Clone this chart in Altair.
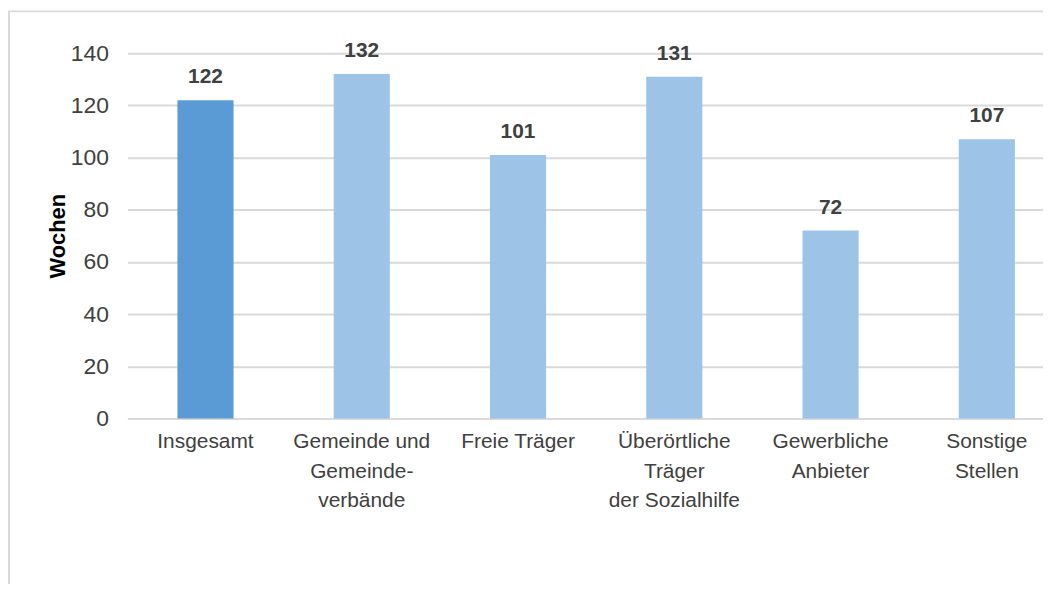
import altair as alt
import pandas as pd

categories = [
    "Insgesamt",
    "Gemeinde und\nGemeinde-\nverbände",
    "Freie Träger",
    "Überörtliche\nTräger\nder Sozialhilfe",
    "Gewerbliche\nAnbieter",
    "Sonstige\nStellen",
]
values = [122, 132, 101, 131, 72, 107]
groups = ["total", "part", "part", "part", "part", "part"]
group_colors = ["#5b9bd5", "#9dc3e6"]

df = pd.DataFrame({"Kategorie": categories, "Wochen": values, "Gruppe": groups})

FONT = "Liberation Sans"

x_enc = alt.X(
    "Kategorie:N",
    sort=categories,
    title=None,
    scale=alt.Scale(range=[0, 942], paddingInner=0.641, paddingOuter=0.32, round=False),
    axis=alt.Axis(
        labelAngle=0,
        labelExpr="split(datum.label, '\\n')",
        labelFont=FONT,
        labelFontSize=21,
        labelColor="#404040",
        labelLineHeight=30,
        labelPadding=12,
        ticks=False,
        domainColor="#d9d9d9",
        domainWidth=2,
        grid=False,
    ),
)

y_enc = alt.Y(
    "Wochen:Q",
    scale=alt.Scale(domain=[0, 140], nice=False),
    axis=alt.Axis(
        values=[0, 20, 40, 60, 80, 100, 120, 140],
        title="Wochen",
        titleFont=FONT,
        titleFontSize=22,
        titleFontWeight="bold",
        titleColor="#000000",
        titleX=-70,
        titleY=183.5,
        titleAngle=270,
        titleAlign="center",
        titleBaseline="middle",
        labelFont=FONT,
        labelFontSize=23,
        labelColor="#404040",
        labelPadding=19,
        ticks=False,
        domain=False,
        grid=True,
        gridColor="#d9d9d9",
        gridWidth=2,
    ),
)

frame = (
    alt.Chart(alt.Data(values=[{"a": 1}]))
    .mark_rect(fillOpacity=0, stroke="#d9d9d9", strokeWidth=2)
    .encode(
        x=alt.value(-119),
        x2=alt.value(960),
        y=alt.value(-42),
        y2=alt.value(560),
    )
)

bars = (
    alt.Chart(df)
    .mark_bar()
    .encode(
        x=x_enc,
        y=y_enc,
        color=alt.Color(
            "Gruppe:N",
            scale=alt.Scale(domain=["total", "part"], range=group_colors),
            legend=None,
        ),
    )
)

labels = (
    alt.Chart(df)
    .mark_text(
        font=FONT,
        fontSize=21,
        fontWeight="bold",
        color="#404040",
        baseline="alphabetic",
        dy=-17,
    )
    .encode(x=alt.X("Kategorie:N", sort=categories), y="Wochen:Q", text="Wochen:Q")
)

chart = (
    alt.layer(frame, bars, labels)
    .properties(
        width=920,
        height=367,
        padding={"left": 120, "top": 44, "right": 0, "bottom": 165},
        autosize=alt.AutoSizeParams(type="none"),
        background="#ffffff",
    )
    .configure_view(stroke=None)
)

chart.save("out.html", embed_options={"renderer": "svg", "actions": False})
